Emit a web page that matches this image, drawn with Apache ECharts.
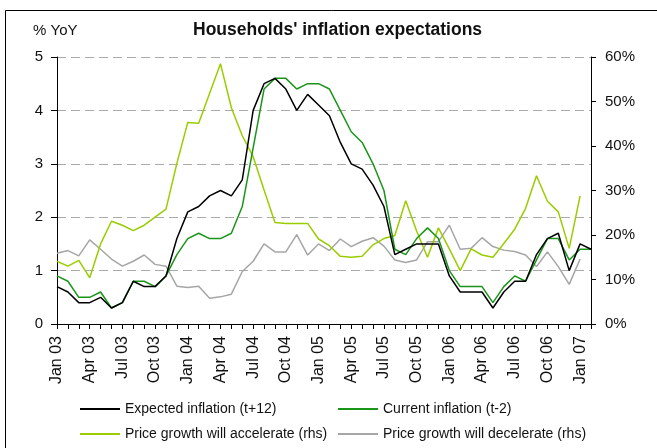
<!DOCTYPE html>
<html>
<head>
<meta charset="utf-8">
<script src="https://cdn.jsdelivr.net/npm/echarts@6/dist/echarts.min.js"></script>
<style>
html, body { margin: 0; padding: 0; background: #fff; }
#chart { width: 657px; height: 448px; }
</style>
</head>
<body>
<div id="chart"></div>
<script>
var monthNames = ['Jan', 'Feb', 'Mar', 'Apr', 'May', 'Jun', 'Jul', 'Aug', 'Sep', 'Oct', 'Nov', 'Dec'];
var years = ['03', '04', '05', '06', '07'];
var months = [];
for (var y = 0; y < years.length; y++) {
  for (var m = 0; m < 12; m++) {
    if (months.length < 50) months.push(monthNames[m] + ' ' + years[y]);
  }
}

// % YoY, left axis
var expected = [0.7, 0.6, 0.4, 0.4, 0.5, 0.3, 0.4, 0.8, 0.7, 0.7, 0.9, 1.6, 2.1, 2.2, 2.4, 2.5, 2.4, 2.7, 4.0, 4.5,
  4.6, 4.4, 4.0, 4.3, 4.1, 3.9, 3.4, 3.0, 2.9, 2.6, 2.2, 1.3, 1.4, 1.5, 1.5, 1.5, 0.9, 0.6, 0.6, 0.6,
  0.3, 0.6, 0.8, 0.8, 1.3, 1.6, 1.7, 1.0, 1.5, 1.4];
var current = [0.9, 0.8, 0.5, 0.5, 0.6, 0.3, 0.4, 0.8, 0.8, 0.7, 0.9, 1.3, 1.6, 1.7, 1.6, 1.6, 1.7, 2.2, 3.3, 4.4,
  4.6, 4.6, 4.4, 4.5, 4.5, 4.4, 4.0, 3.6, 3.4, 3.0, 2.5, 1.4, 1.3, 1.6, 1.8, 1.6, 1.0, 0.7, 0.7, 0.7,
  0.4, 0.7, 0.9, 0.8, 1.2, 1.6, 1.6, 1.2, 1.4, 1.4];
// % of households, right axis
var accelerate = [14.1, 13.0, 14.3, 10.4, 18.0, 23.1, 22.2, 21.0, 22.2, 24.0, 25.8, 36.1, 45.3, 45.1, 51.8, 58.5, 48.6, 42.3, 37.6, 30.1,
  22.8, 22.6, 22.6, 22.6, 19.1, 17.6, 15.2, 15.0, 15.2, 17.8, 19.2, 19.9, 27.7, 20.9, 15.0, 21.6, 16.9, 12.0, 16.9, 15.5,
  15.0, 18.1, 21.3, 26.0, 33.3, 27.6, 25.2, 17.0, 28.8, null];
var decelerate = [15.9, 16.5, 15.3, 18.9, 16.8, 14.6, 13.0, 14.1, 15.5, 13.4, 13.0, 8.5, 8.2, 8.5, 5.8, 6.1, 6.7, 11.8, 14.1, 18.0,
  16.2, 16.2, 20.1, 15.5, 18.0, 16.5, 19.1, 17.4, 18.6, 19.4, 17.5, 14.4, 13.8, 14.4, 18.5, 18.5, 22.2, 16.8, 17.0, 19.4,
  17.4, 16.6, 16.3, 15.5, 12.9, 16.2, 12.9, 8.9, 14.6, null];

var names = ['Expected inflation (t+12)', 'Current inflation (t-2)',
  'Price growth will accelerate (rhs)', 'Price growth will decelerate (rhs)'];
var colors = ['#000000', '#1a951a', '#9acd00', '#a6a6a6'];

var font = "'Liberation Sans', Arial, sans-serif";
var txt = { color: '#111', fontSize: 14, fontFamily: font };

var chart = echarts.init(document.getElementById('chart'));

function legendAt(i, x, y) {
  return {
    data: [names[i]], left: x, top: y, icon: 'rect',
    itemWidth: 40, itemHeight: 2, itemGap: 4,
    textStyle: txt, selectedMode: false
  };
}

function line(i, axis, data) {
  return {
    name: names[i], type: 'line', yAxisIndex: axis, data: data,
    showSymbol: false, symbol: 'none', connectNulls: false,
    lineStyle: { color: colors[i], width: 1.5 }, itemStyle: { color: colors[i] },
    animation: false
  };
}

var option = {
  backgroundColor: '#fff',
  grid: { left: 57, right: 66, top: 57, bottom: 124 },
  graphic: [
    { type: 'rect', shape: { x: 5.5, y: 10.5, width: 700, height: 500 }, style: { fill: 'none', stroke: '#000', lineWidth: 1 }, silent: true },
    { type: 'text', left: 193, top: 21, style: { text: "Households' inflation expectations", font: "bold 17.5px " + font, fill: '#111' } },
    { type: 'text', left: 33, top: 23, style: { text: '% YoY', font: '15px ' + font, fill: '#111' } }
  ],
  legend: [
    legendAt(0, 75, 397),
    legendAt(1, 333, 397),
    legendAt(2, 75, 422),
    legendAt(3, 333, 422)
  ],
  xAxis: {
    type: 'category', data: months, boundaryGap: false,
    axisLine: { lineStyle: { color: '#000', width: 1 } },
    axisTick: { interval: 0, length: 5, lineStyle: { color: '#000' } },
    axisLabel: { interval: 2, rotate: 90, margin: 12, color: '#111', fontSize: 16, fontFamily: font },
    splitLine: { show: false }
  },
  yAxis: [
    {
      type: 'value', min: 0, max: 5, interval: 1,
      axisLine: { show: true, lineStyle: { color: '#000' } },
      axisTick: { show: true, length: 6, lineStyle: { color: '#000' } },
      axisLabel: { margin: 14, color: '#111', fontSize: 15, fontFamily: font },
      splitLine: { show: true, lineStyle: { color: '#aaaaaa', width: 1, type: [9, 5] } }
    },
    {
      type: 'value', min: 0, max: 60, interval: 10, position: 'right',
      axisLine: { show: true, lineStyle: { color: '#000' } },
      axisTick: { show: true, length: 5, lineStyle: { color: '#000' } },
      axisLabel: { margin: 14, color: '#111', fontSize: 15, fontFamily: font, formatter: '{value}%' },
      splitLine: { show: false }
    }
  ],
  series: [
    line(3, 1, decelerate),
    line(2, 1, accelerate),
    line(1, 0, current),
    line(0, 0, expected)
  ]
};
chart.setOption(option);
</script>
</body>
</html>
